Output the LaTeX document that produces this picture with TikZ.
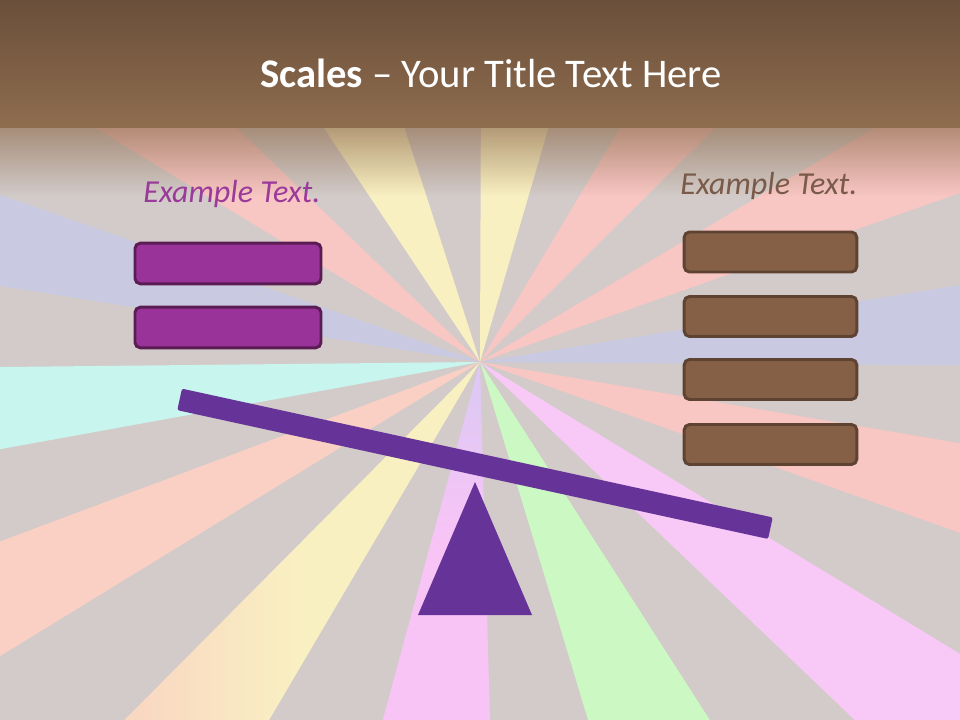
\documentclass[tikz,border=0pt]{standalone}
\usepackage{fontspec}
\setmainfont{Carlito}
\usetikzlibrary{fadings}
\definecolor{bggray}{HTML}{D2CBC9}
\definecolor{rblue}{HTML}{C9CAE2}
\definecolor{rpink}{HTML}{F8C6C3}
\definecolor{ryellow}{HTML}{F9F0C2}
\definecolor{rcyan}{HTML}{C8F6EE}
\definecolor{rsalmon}{HTML}{F9D0C3}
\definecolor{rpeach}{HTML}{F9D8C2}
\definecolor{rlilac}{HTML}{F8C4F6}
\definecolor{rlav}{HTML}{E0C8F4}
\definecolor{rgreen}{HTML}{CCF8C4}
\definecolor{rmagenta}{HTML}{F8C8F6}
\definecolor{titletop}{HTML}{6A4F3A}
\definecolor{titlebot}{HTML}{8F6D4F}
\definecolor{lfill}{HTML}{993399}
\definecolor{ldraw}{HTML}{5A1C52}
\definecolor{rfill}{HTML}{856046}
\definecolor{rdraw}{HTML}{5E4232}
\definecolor{ltext}{HTML}{9A3A9A}
\definecolor{rtext}{HTML}{7A5A48}
\definecolor{scalecol}{HTML}{663399}
\tikzfading[name=fadedown, top color=transparent!35, bottom color=transparent!100]
\tikzset{
  lbox/.style={draw=ldraw, fill=lfill, line width=2.2pt, rounded corners=4pt,
    minimum width=139.5pt, minimum height=30.5pt, inner sep=0pt},
  rbox/.style={draw=rdraw, fill=rfill, line width=2.2pt, rounded corners=4pt,
    minimum width=129.5pt, minimum height=30pt, inner sep=0pt},
  extext/.style={font=\fontsize{24}{28}\selectfont\itshape, inner sep=0pt},
  beam/.style={fill=scalecol, rounded corners=1.5pt, minimum width=453.5pt,
    minimum height=16.5pt, inner sep=0pt, rotate=-12.3}
}
\begin{document}
\begin{tikzpicture}[x=0.75pt,y=-0.75pt]
\useasboundingbox (0,0) rectangle (960,720);
\begin{scope}
\clip (0,0) rectangle (960,720);
\fill[bggray] (0,0) rectangle (960,720);
\coordinate (C) at (480,362);
\foreach \a/\b/\c in {-0.4/9.1/rblue, 19.4/30.7/rpink, 44.9/59.1/rpink,
  73.7/89.8/ryellow, 107.9/123.7/ryellow, 136.1/148.7/rpink, 160.8/171.0/rblue,
  180.6/190.3/rcyan, 200.5/211.5/rsalmon, 286.8/302.7/rgreen,
  316.3/328.7/rmagenta, 340.4/350.4/rpink}{
  \fill[\c] (C) -- ({480+1500*cos(\a)},{362-1500*sin(\a)})
     -- ({480+1500*cos(\b)},{362-1500*sin(\b)}) -- cycle;
}
\begin{scope}
  \clip (C) -- ({480+1500*cos(225.2)},{362-1500*sin(225.2)})
     -- ({480+1500*cos(239.5)},{362-1500*sin(239.5)}) -- cycle;
  \shade[left color=rpeach, right color=ryellow] (140,362) rectangle (300,720);
  \fill[rpeach] (0,362) rectangle (140,720);
  \fill[ryellow] (300,362) rectangle (480,720);
\end{scope}
\begin{scope}
  \clip (C) -- ({480+1500*cos(254.8)},{362-1500*sin(254.8)})
     -- ({480+1500*cos(271.6)},{362-1500*sin(271.6)}) -- cycle;
  \shade[top color=rlav, bottom color=rlilac] (300,400) rectangle (600,540);
  \fill[rlav] (300,350) rectangle (600,400);
  \fill[rlilac] (300,540) rectangle (600,720);
\end{scope}
\shade[top color=titletop, bottom color=titlebot] (0,0) rectangle (960,128);
\fill[titlebot, path fading=fadedown] (0,128) rectangle (960,196);
\end{scope}
\node[text=white, font=\fontsize{30.5}{36}\selectfont, anchor=base] (title) at (491,88)
  {\textbf{Scales} – Your Title Text Here};
\node[extext, text=ltext, anchor=base] (ltxt) at (232,203) {Example Text.};
\node[extext, text=rtext, anchor=base] (rtxt) at (769,195) {Example Text.};
\node[lbox] (l1) at (228,263.5) {};
\node[lbox] (l2) at (228,327.5) {};
\node[rbox] (r1) at (770.5,252) {};
\node[rbox] (r2) at (770.5,316.5) {};
\node[rbox] (r3) at (770.5,379.5) {};
\node[rbox] (r4) at (770.5,444.5) {};
\fill[scalecol] (475,482) coordinate (apex) -- (532,615) coordinate (br) -- (418,615) coordinate (bl) -- cycle;
\node[beam] (bar) at (475,463.8) {};
\end{tikzpicture}
\end{document}
